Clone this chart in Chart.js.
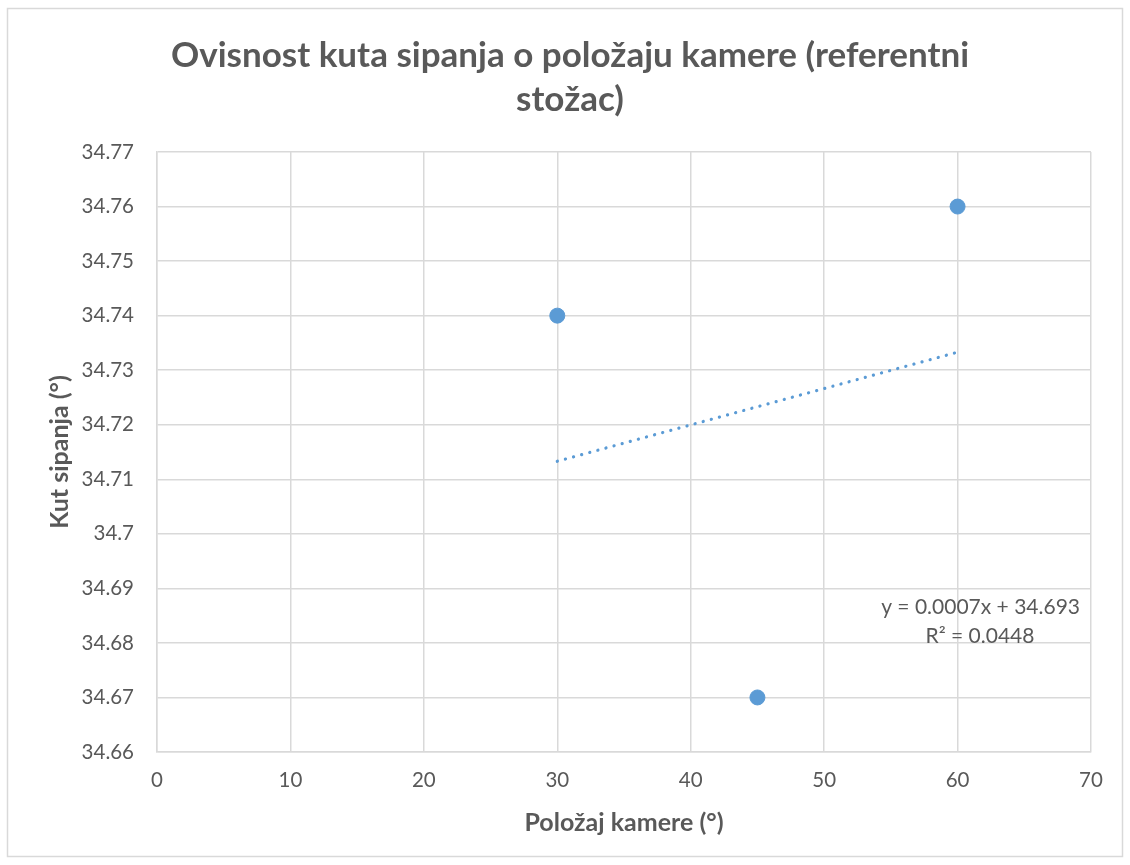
<!DOCTYPE html>
<html>
<head>
<meta charset="utf-8">
<script src="https://cdn.jsdelivr.net/npm/chart.js@4/dist/chart.umd.min.js"></script>
<style>
html,body{margin:0;padding:0;background:#fff;}
#wrap{position:relative;width:1130px;height:865px;}
</style>
</head>
<body>
<div id="wrap"><canvas id="c" width="1130" height="865"></canvas></div>
<script>
const titleLines = ["Ovisnost kuta sipanja o položaju kamere (referentni", "stožac)"];
const xTitle = "Položaj kamere (°)";
const yTitle = "Kut sipanja (°)";
const cameraPos = [30, 45, 60];
const scatterAngle = [34.74, 34.67, 34.76];
const trendX = [30, 60];
const trendY = [34.7133, 34.7333];
const trendLabel = ["y = 0.0007x + 34.693", "R² = 0.0448"];
const xRange = [0, 70, 10];
const yRange = [34.66, 34.77, 0.01];

const FONT = "Lato, 'Open Sans', sans-serif";
const TXT = "#595959";

const deco = {
  id: 'deco',
  beforeDraw(chart) {
    const ctx = chart.ctx;
    ctx.save();
    ctx.fillStyle = '#fff';
    ctx.fillRect(0, 0, chart.width, chart.height);
    ctx.strokeStyle = '#d9d9d9';
    ctx.lineWidth = 1.5;
    ctx.strokeRect(7.5, 8.5, 1115, 848);
    ctx.restore();
  },
  afterDraw(chart) {
    const ctx = chart.ctx;
    ctx.save();
    ctx.fillStyle = TXT;
    ctx.textAlign = 'center';
    ctx.textBaseline = 'middle';
    ctx.font = "bold 35px " + FONT;
    ctx.fillText(titleLines[0], 570, 56);
    ctx.fillText(titleLines[1], 570, 100);
    ctx.font = "21px " + FONT;
    ctx.textAlign = 'right';
    ctx.fillText(trendLabel[0], 1080, 607);
    ctx.textAlign = 'center';
    ctx.fillText(trendLabel[1], 980, 636);
    ctx.restore();
  }
};

new Chart(document.getElementById('c'), {
  type: 'scatter',
  data: {
    datasets: [
      {
        label: 'trend',
        data: trendX.map((x, i) => ({x, y: trendY[i]})),
        showLine: true,
        borderColor: '#5B9BD5',
        borderWidth: 3.2,
        borderDash: [0.1, 8.3],
        borderCapStyle: 'round',
        pointRadius: 0,
        fill: false
      },
      {
        label: 'data',
        data: cameraPos.map((x, i) => ({x, y: scatterAngle[i]})),
        backgroundColor: '#5B9BD5',
        borderColor: '#5B9BD5',
        pointRadius: 7.5,
        pointHoverRadius: 7.5
      }
    ]
  },
  options: {
    responsive: false,
    animation: false,
    devicePixelRatio: 1,
    layout: { padding: { left: 20, right: 39, top: 152, bottom: 20 } },
    plugins: { legend: { display: false }, title: { display: false }, tooltip: { enabled: false } },
    scales: {
      x: {
        type: 'linear',
        min: xRange[0], max: xRange[1],
        ticks: { stepSize: xRange[2], color: TXT, font: { family: FONT, size: 20.5 }, padding: 16 },
        grid: { color: '#d9d9d9', lineWidth: 1.5, drawTicks: false },
        border: { color: '#d9d9d9', width: 1.5 },
        title: { display: true, text: xTitle, color: TXT, font: { family: FONT, size: 25, weight: 'bold' }, padding: { top: 4, bottom: 7 } },
        afterFit(s) { s.height = 865 - 752 - 20; }
      },
      y: {
        type: 'linear',
        min: yRange[0], max: yRange[1],
        ticks: { stepSize: yRange[2], color: TXT, font: { family: FONT, size: 20.5 }, padding: 23,
          callback: v => String(Math.round(v * 100) / 100) },
        grid: { color: '#d9d9d9', lineWidth: 1.5, drawTicks: false },
        border: { color: '#d9d9d9', width: 1.5 },
        title: { display: true, text: yTitle, color: TXT, font: { family: FONT, size: 25, weight: 'bold' }, padding: { top: 25, bottom: 0 } },
        afterFit(s) { s.width = 157 - 20; }
      }
    }
  },
  plugins: [deco]
});
</script>
</body>
</html>
